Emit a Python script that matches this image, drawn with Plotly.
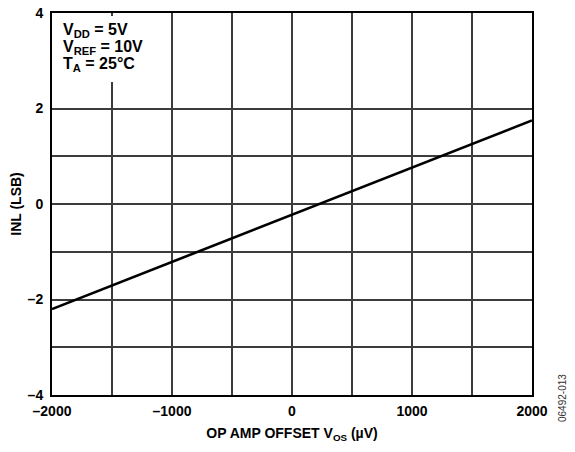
import plotly.graph_objects as go

# Data
offset_uv = [-2000, 2000]
inl_lsb = [-2.2, 1.75]

x_tick_vals = [-2000, -1000, 0, 1000, 2000]
x_tick_text = ["–2000", "–1000", "0", "1000", "2000"]
x_minor_grid = [-1500, -500, 500, 1500]
y_tick_vals = [-4, -2, 0, 2, 4]
y_tick_text = ["–4", "–2", "0", "2", "4"]
y_minor_grid = [-3, -1, 1]

cond_lines = ["<b>V<sub>DD</sub> = 5V</b>",
              "<b>V<sub>REF</sub> = 10V</b>",
              "<b>T<sub>A</sub> = 25°C</b>"]

FONT = "Liberation Sans, Arial, sans-serif"
GRID = "#3c3c3c"

fig = go.Figure()
fig.add_trace(go.Scatter(x=offset_uv, y=inl_lsb, mode="lines",
                         line=dict(color="black", width=2.6),
                         showlegend=False, hoverinfo="skip"))

axis_common = dict(showline=True, linecolor="black", linewidth=2, mirror=True,
                   showgrid=True, gridcolor=GRID, gridwidth=1.5,
                   zeroline=False, ticks="", automargin=False,
                   tickfont=dict(family=FONT, size=14, color="black", weight="bold"))

fig.update_xaxes(range=[-2000, 2000], tickvals=x_tick_vals, ticktext=x_tick_text,
                 minor=dict(tickvals=x_minor_grid, showgrid=True, gridcolor=GRID, gridwidth=1.5, ticks=""),
                 title=dict(text="OP AMP OFFSET V<sub>OS</sub> (µV)",
                            font=dict(family=FONT, size=14, color="black", weight="bold"),
                            standoff=10),
                 ticklabelstandoff=2,
                 **axis_common)
fig.update_yaxes(range=[-4, 4], tickvals=y_tick_vals, ticktext=y_tick_text,
                 minor=dict(tickvals=y_minor_grid, showgrid=True, gridcolor=GRID, gridwidth=1.5, ticks=""),
                 title=dict(text="INL (LSB)",
                            font=dict(family=FONT, size=14, color="black", weight="bold"),
                            standoff=3),
                 ticklabelstandoff=4,
                 **axis_common)

# white box behind the conditions text (hides the grid there)
fig.add_annotation(xref="paper", yref="paper", x=0.0, y=0.992, xshift=1,
                   xanchor="left", yanchor="top", text=" ", showarrow=False,
                   width=95, height=66, bgcolor="white", borderpad=0, borderwidth=0)

for i, t in enumerate(cond_lines):
    fig.add_annotation(xref="paper", yref="paper", x=0.02, y=0.955 - i * 0.0445,
                       xanchor="left", yanchor="middle", text=t, showarrow=False,
                       align="left", borderpad=0,
                       font=dict(family=FONT, size=16, color="black"))

fig.add_annotation(xref="paper", yref="paper", x=1.0, y=0.0, xshift=30, yshift=-3,
                   xanchor="center", yanchor="middle", textangle=-90,
                   text="06492-013", showarrow=False,
                   font=dict(family=FONT, size=10, color="#333333"))

fig.update_layout(width=575, height=452,
                  margin=dict(l=52, r=43, t=13, b=57),
                  plot_bgcolor="white", paper_bgcolor="white")

fig.write_html("out.html", config={"displayModeBar": False},
               post_script="document.body.style.margin='0';document.body.style.padding='0';")
